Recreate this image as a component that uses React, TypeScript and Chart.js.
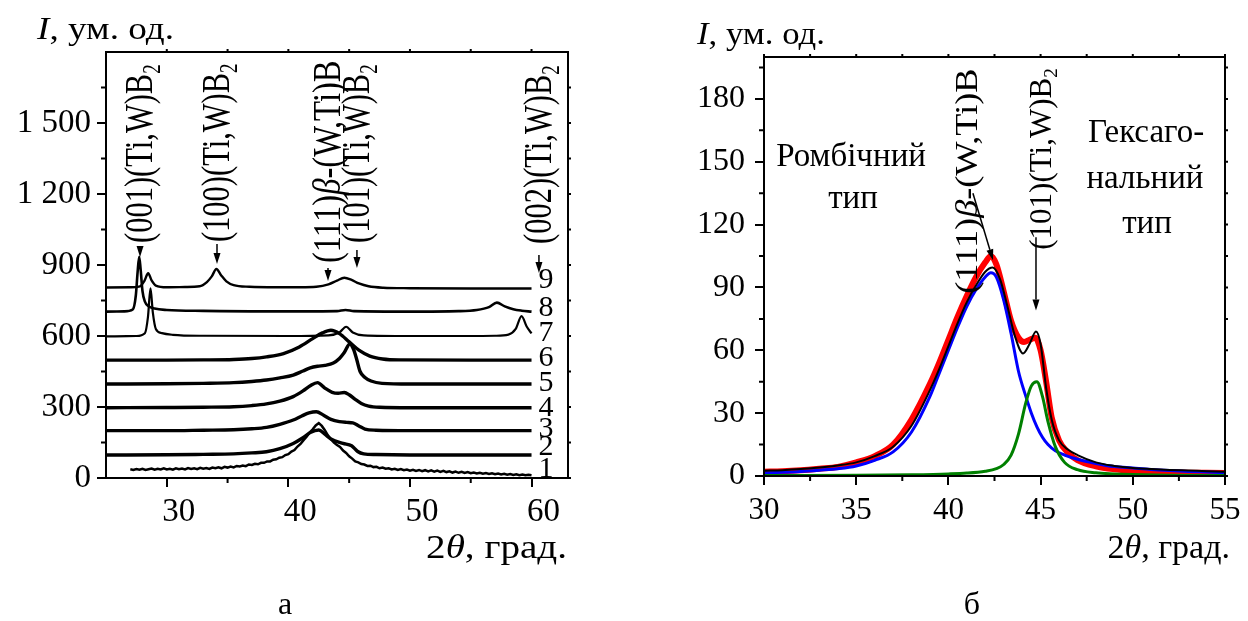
import React, { useEffect, useRef } from 'react';
import { Chart, registerables } from 'chart.js';

Chart.register(...registerables);

const SERIF = '"Liberation Serif", "Times New Roman", serif';

// ---------------- Panel (а): XRD patterns 1–9 ----------------
const aXTicks = [30, 40, 50, 60];
const aXMinor = [35, 45, 55];
const aYTicks = [0, 300, 600, 900, 1200, 1500];
const aYTickLabels = ['0', '300', '600', '900', '1 200', '1 500'];
const aYMinor = [150, 450, 750, 1050, 1350, 1650];

const c1X = [27, 27.25, 27.5, 27.75, 28, 28.25, 28.5, 28.75, 29, 29.25, 29.5, 29.75, 30, 30.25, 30.5, 30.75, 31, 31.25, 31.5, 31.75, 32, 32.25, 32.5, 32.75, 33, 33.25, 33.5, 33.75, 34, 34.25, 34.5, 34.75, 35, 35.25, 35.5, 35.75, 36, 36.25, 36.5, 36.75, 37, 37.25, 37.5, 37.75, 38, 38.25, 38.5, 38.75, 39, 39.25, 39.5, 39.75, 40, 40.25, 40.5, 40.75, 41, 41.25, 41.5, 41.75, 42, 42.25, 42.5, 42.75, 43, 43.25, 43.5, 43.75, 44, 44.25, 44.5, 44.75, 45, 45.25, 45.5, 45.75, 46, 46.25, 46.5, 46.75, 47, 47.25, 47.5, 47.75, 48, 48.25, 48.5, 48.75, 49, 49.25, 49.5, 49.75, 50, 50.25, 50.5, 50.75, 51, 51.25, 51.5, 51.75, 52, 52.25, 52.5, 52.75, 53, 53.25, 53.5, 53.75, 54, 54.25, 54.5, 54.75, 55, 55.25, 55.5, 55.75, 56, 56.25, 56.5, 56.75, 57, 57.25, 57.5, 57.75, 58, 58.25, 58.5, 58.75, 59, 59.25, 59.5, 59.75, 60];
const c1Y = [37, 34, 38, 35, 39, 34, 37, 40, 35, 39, 36, 41, 36, 39, 35, 41, 37, 40, 36, 42, 38, 41, 37, 43, 39, 42, 38, 44, 41, 45, 41, 47, 44, 48, 45, 51, 49, 53, 50, 57, 55, 60, 58, 64, 64, 70, 70, 77, 79, 86, 88, 97, 101, 112, 118, 133, 144, 160, 174, 192, 206, 222, 232, 220, 202, 180, 164, 150, 139, 131, 116, 106, 92, 82, 70, 66, 59, 57, 51, 52, 46, 47, 41, 44, 39, 41, 36, 39, 34, 38, 33, 36, 31, 35, 30, 34, 29, 33, 28, 32, 27, 31, 26, 30, 25, 28, 23, 27, 22, 26, 21, 25, 20, 23, 19, 22, 18, 21, 17, 20, 16, 19, 15, 18, 14, 17, 13, 16, 12, 15, 12, 14, 12];

const c2X = [25, 30, 33, 35.5, 37, 38.2, 39.3, 40.4, 41.2, 41.8, 42.5, 43.0, 43.5, 44.5, 45.2, 45.7, 46.2, 47.2, 50, 55, 60];
const c2Y = [97, 98, 100, 102, 106, 111, 124, 146, 170, 192, 203, 185, 165, 146, 136, 112, 102, 99, 97, 97, 97];

const c3X = [25, 30, 33, 35.5, 37, 38.2, 39.3, 40.4, 41.1, 41.7, 42.3, 42.9, 43.5, 44.2, 44.8, 45.3, 45.8, 46.3, 47.2, 50, 60];
const c3Y = [200, 200, 202, 204, 208, 214, 227, 245, 262, 275, 280, 265, 248, 238, 235, 233, 220, 207, 202, 200, 200];

const c4X = [25, 30, 33, 35.5, 37, 38.2, 39.3, 40.4, 41.2, 41.8, 42.4, 43.0, 43.6, 44.1, 44.6, 45.0, 45.5, 46.0, 46.6, 47.5, 50, 60];
const c4Y = [297, 298, 299, 301, 306, 313, 325, 344, 368, 390, 403, 380, 362, 358, 361, 352, 332, 315, 304, 299, 297, 297];

const c5X = [25, 30, 33, 35.5, 37, 38.2, 39.3, 40.4, 41.2, 41.8, 42.4, 43.0, 43.7, 44.2, 44.6, 45.05, 45.35, 45.6, 45.9, 46.3, 46.8, 47.7, 50, 60];
const c5Y = [397, 398, 400, 403, 408, 414, 423, 435, 452, 465, 472, 476, 486, 505, 530, 566, 545, 505, 450, 425, 410, 400, 397, 397];

const c6X = [25, 30, 33, 35.5, 37, 38.2, 39.6, 40.9, 42.0, 42.8, 43.5, 44.2, 45.0, 45.8, 46.7, 47.75, 49.1, 55, 60];
const c6Y = [498, 498, 499, 501, 505, 512, 526, 554, 589, 613, 624, 610, 575, 540, 515, 503, 499, 498, 498];

const c7X = [25, 27.5, 28.2, 28.45, 28.66, 28.85, 29.1, 29.6, 30.5, 33, 40, 43.3, 44.2, 44.75, 45.3, 46.2, 50, 55, 57, 58.1, 58.7, 59.18, 59.6, 60];
const c7Y = [598, 600, 612, 680, 801, 700, 630, 612, 605, 601, 600, 603, 615, 639, 615, 603, 600, 600, 601, 606, 630, 684, 640, 611];

const c8X = [25, 26.5, 27.2, 27.45, 27.6, 27.73, 27.85, 28.0, 28.2, 28.5, 29.0, 30, 33, 40, 44.0, 44.7, 45.4, 50, 54, 55.5, 56.5, 57.15, 57.8, 58.5, 59.2, 60];
const c8Y = [703, 704, 712, 770, 870, 935, 880, 790, 745, 726, 716, 710, 706, 704, 705, 710, 705, 703, 705, 710, 722, 741, 725, 713, 707, 703];

const c9X = [25, 27, 27.8, 28.15, 28.47, 28.75, 29.1, 30, 31.5, 32.7, 33.3, 33.7, 34.08, 34.45, 34.9, 35.5, 36.8, 39, 41, 42.3, 43.3, 44.0, 44.6, 45.2, 45.8, 46.6, 47.8, 50, 55, 60];
const c9Y = [805, 806, 810, 832, 865, 835, 813, 806, 807, 810, 828, 852, 883, 858, 831, 815, 808, 806, 806, 808, 818, 834, 846, 837, 822, 810, 804, 802, 801, 801];

const aCurveNames = ['1', '2', '3', '4', '5', '6', '7', '8', '9'];
const aNameY = [38, 132, 207, 295, 400, 505, 611, 717, 837];
const aNameX = 61.2;

// ---------------- Panel (б): decomposition ----------------
const bXTicks = [30, 35, 40, 45, 50, 55];
const bXMinor = [32.5, 37.5, 42.5, 47.5, 52.5];
const bYTicks = [0, 30, 60, 90, 120, 150, 180];
const bYMinor = [15, 45, 75, 105, 135, 165, 195];

const expX = [30, 31, 32, 33, 34, 35, 36, 37, 38, 39, 39.5, 40, 40.5, 41, 41.5, 42, 42.3, 42.6, 43, 43.4, 43.8, 44.1, 44.4, 44.7, 45, 45.3, 45.6, 46, 46.5, 47, 48, 49, 50, 51, 52, 53, 54, 55];
const expY = [2, 2.3, 2.8, 3.5, 4.3, 6.5, 9.5, 15, 27, 44, 54, 65, 76, 86, 95, 102, 105, 101, 88, 74, 66, 64, 65, 66, 60, 45, 28, 17, 11, 7.6, 4.6, 3.2, 2.5, 2.1, 1.8, 1.6, 1.5, 1.4];

const orthoX = [30, 31, 32, 33, 34, 35, 36, 37, 38, 39, 39.5, 40, 40.5, 41, 41.5, 42, 42.3, 42.6, 43, 43.4, 43.8, 44.2, 44.5, 44.8, 45.1, 45.4, 45.8, 46.3, 47, 48, 49, 50, 51, 52, 53, 54, 55];
const orthoY = [1.5, 1.8, 2.2, 2.8, 3.5, 4.8, 7.5, 11.5, 21, 38, 49, 60, 71, 81, 89, 95, 97, 95, 84, 68, 50, 38, 30, 23.5, 18.5, 15, 12, 10, 8, 6, 4.5, 3.8, 3.1, 2.6, 2.2, 1.9, 1.6];

const hexX = [30, 35, 38, 40, 41, 42, 42.6, 43, 43.4, 43.8, 44.2, 44.5, 44.8, 45.1, 45.4, 45.8, 46.3, 47, 48, 49, 50, 52, 55];
const hexY = [0.2, 0.3, 0.6, 1, 1.4, 2.3, 3.5, 5.5, 10, 20, 35, 43, 45, 38, 26, 14, 6.5, 3, 1.5, 1, 0.7, 0.4, 0.25];

const fitX = [30, 31, 32, 33, 34, 35, 36, 37, 38, 39, 39.5, 40, 40.5, 41, 41.5, 42, 42.4, 42.8, 43.2, 43.6, 44.05, 44.4, 44.75, 45.0, 45.3, 45.6, 46, 46.5, 47, 48, 49, 50, 51, 52, 53, 54, 55];
const fitY = [2.5, 2.8, 3.3, 4, 5, 6.5, 9.5, 14, 24, 41, 51, 62, 73, 83, 91, 97.5, 99.5, 94, 81, 67, 58.5, 63, 69, 63, 42, 27, 17, 12.5, 10, 6.5, 4.8, 3.8, 3.3, 2.9, 2.6, 2.3, 2];

// ---------------- helpers ----------------
type Seg = { t: string; it?: boolean; sub?: boolean };

const fontStr = (size: number, it?: boolean) => `${it ? 'italic ' : ''}${size}px ${SERIF}`;

function drawSegs(ctx: CanvasRenderingContext2D, segs: Seg[], x: number, y: number, size: number,
  align: 'left' | 'center' | 'right' = 'left', sx = 1, rot = false, sy = 1) {
  ctx.save();
  ctx.translate(x, y);
  ctx.scale(sx, sy);
  if (rot) ctx.rotate(-Math.PI / 2);
  ctx.textAlign = 'left';
  ctx.textBaseline = 'alphabetic';
  ctx.fillStyle = '#000';
  let total = 0;
  for (const s of segs) {
    ctx.font = fontStr(s.sub ? size * 0.62 : size, s.it);
    total += ctx.measureText(s.t).width;
  }
  let cx = align === 'left' ? 0 : align === 'center' ? -total / 2 : -total;
  for (const s of segs) {
    ctx.font = fontStr(s.sub ? size * 0.62 : size, s.it);
    ctx.fillText(s.t, cx, s.sub ? size * 0.2 : 0);
    cx += ctx.measureText(s.t).width;
  }
  ctx.restore();
}

function arrow(ctx: CanvasRenderingContext2D, x1: number, y1: number, x2: number, y2: number) {
  const head = 11, hw = 3.5;
  const ang = Math.atan2(y2 - y1, x2 - x1);
  const bx = x2 - head * Math.cos(ang), by = y2 - head * Math.sin(ang);
  ctx.save();
  ctx.strokeStyle = '#000';
  ctx.fillStyle = '#000';
  ctx.lineWidth = 1.5;
  ctx.beginPath();
  ctx.moveTo(x1, y1);
  ctx.lineTo(bx, by);
  ctx.stroke();
  ctx.beginPath();
  ctx.moveTo(x2, y2);
  ctx.lineTo(bx + hw * Math.sin(ang), by - hw * Math.cos(ang));
  ctx.lineTo(bx - hw * Math.sin(ang), by + hw * Math.cos(ang));
  ctx.closePath();
  ctx.fill();
  ctx.restore();
}

const gridOpts = { drawOnChartArea: false, drawTicks: true, tickLength: 9, lineWidth: 2, color: '#000' };

function xScale(min: number, max: number, ticks: number[], size: number, h: number, pad: number, offset: number) {
  return {
    type: 'linear', min, max,
    afterBuildTicks: (s: any) => { s.ticks = ticks.map((v) => ({ value: v })); },
    afterFit: (s: any) => { s.height = h; },
    grid: gridOpts,
    border: { display: false },
    ticks: { color: '#000', font: { family: SERIF, size }, padding: pad, maxRotation: 0, autoSkip: false,
      labelOffset: offset, callback: (v: number) => String(v) },
  };
}

function yScale(min: number, max: number, ticks: number[], labels: string[], size: number, w: number, pad: number) {
  return {
    type: 'linear', min, max,
    afterBuildTicks: (s: any) => { s.ticks = ticks.map((v) => ({ value: v })); },
    afterFit: (s: any) => { s.width = w; },
    grid: gridOpts,
    border: { display: false },
    ticks: { color: '#000', font: { family: SERIF, size }, padding: pad, autoSkip: false,
      callback: (v: number) => labels[ticks.indexOf(v)] ?? '' },
  };
}

function framePlugin(xMajor: number[], xMinor: number[], yMajor: number[], yMinor: number[], extra: (c: any) => void) {
  return {
    id: 'frame',
    afterDraw(chart: any) {
      const { ctx, chartArea: a, scales } = chart;
      const xs = scales.x, ys = scales.y;
      ctx.save();
      ctx.strokeStyle = '#000';
      ctx.lineWidth = 2;
      ctx.strokeRect(a.left, a.top, a.right - a.left, a.bottom - a.top);
      ctx.beginPath();
      for (const v of xMinor) { const p = xs.getPixelForValue(v); ctx.moveTo(p, a.bottom); ctx.lineTo(p, a.bottom + 5); }
      for (const v of yMinor) { const p = ys.getPixelForValue(v); ctx.moveTo(a.left, p); ctx.lineTo(a.left - 5, p); }
      for (const v of [...xMajor, ...xMinor]) { const p = xs.getPixelForValue(v); ctx.moveTo(p, a.top); ctx.lineTo(p, a.top - 3); }
      for (const v of [...yMajor, ...yMinor]) { const p = ys.getPixelForValue(v); if (p >= a.top - 1) { ctx.moveTo(a.right, p); ctx.lineTo(a.right + 3, p); } }
      ctx.stroke();
      ctx.restore();
      extra(chart);
    },
  };
}

const aPeaks = [
  { segs: [{ t: '(001)(Ti,W)B' }, { t: '2', sub: true }], x: 27.8, textY: 993, from: 980, to: 934, sy: 1 },
  { segs: [{ t: '(100)(Ti,W)B' }, { t: '2', sub: true }], x: 34.13, textY: 997, from: 989, to: 904, sy: 1 },
  { segs: [{ t: '(111)' }, { t: 'β', it: true }, { t: '-(W,Ti)B' }], x: 43.26, textY: 908, from: 887, to: 832, sy: 1.07 },
  { segs: [{ t: '(101)(Ti,W)B' }, { t: '2', sub: true }], x: 45.64, textY: 993, from: 963, to: 887, sy: 1 },
  { segs: [{ t: '(002)(Ti,W)B' }, { t: '2', sub: true }], x: 60.61, textY: 989, from: 942, to: 866, sy: 1 },
];

function drawA(chart: any) {
  const { ctx, chartArea: a, scales: { x, y } } = chart;
  ctx.save();
  ctx.fillStyle = '#000';
  ctx.font = fontStr(30);
  ctx.textAlign = 'center';
  ctx.textBaseline = 'middle';
  aCurveNames.forEach((t, i) => ctx.fillText(t, x.getPixelForValue(aNameX), y.getPixelForValue(aNameY[i])));
  ctx.restore();
  for (const p of aPeaks) {
    const px = x.getPixelForValue(p.x);
    drawSegs(ctx, p.segs as Seg[], px + 12, y.getPixelForValue(p.textY), 30.5, 'left', 1.33, true, p.sy);
    arrow(ctx, px, y.getPixelForValue(p.from), px, y.getPixelForValue(p.to));
  }
  drawSegs(ctx, [{ t: 'I', it: true }, { t: ', ум. од.' }], 37, 39, 31, 'left', 1.2);
  drawSegs(ctx, [{ t: '2' }, { t: 'θ', it: true }, { t: ', град.' }], a.right - 1, 558, 34, 'right', 1.15);
  drawSegs(ctx, [{ t: 'а' }], 285, 614, 32, 'center');
}

const bTexts = [
  { t: 'Ромбічний', x: 34.72, y: 147.8 },
  { t: 'тип', x: 34.83, y: 127.8 },
  { t: 'Гексаго-', x: 50.72, y: 159.3 },
  { t: 'нальний', x: 50.66, y: 137.3 },
  { t: 'тип', x: 50.77, y: 115.9 },
];

const bPeaks = [
  { segs: [{ t: '(111)' }, { t: 'β', it: true }, { t: '-(W,Ti)B' }], tx: 41.55, ty: 87, ax1: 41.33, ay1: 135, ax2: 42.42, ay2: 103, sy: 1.17 },
  { segs: [{ t: '(101)(Ti,W)B' }, { t: '2', sub: true }], tx: 45.55, ty: 108, ax1: 44.75, ay1: 114, ax2: 44.75, ay2: 79, sy: 1 },
];

function drawB(chart: any) {
  const { ctx, chartArea: a, scales: { x, y } } = chart;
  for (const t of bTexts) drawSegs(ctx, [{ t: t.t }], x.getPixelForValue(t.x), y.getPixelForValue(t.y), 33, 'center');
  for (const p of bPeaks) {
    drawSegs(ctx, p.segs as Seg[], x.getPixelForValue(p.tx), y.getPixelForValue(p.ty), 31, 'left', 1, true, p.sy);
    arrow(ctx, x.getPixelForValue(p.ax1), y.getPixelForValue(p.ay1), x.getPixelForValue(p.ax2), y.getPixelForValue(p.ay2));
  }
  drawSegs(ctx, [{ t: 'I', it: true }, { t: ', ум. од.' }], 73, 44, 31, 'left', 1.12);
  drawSegs(ctx, [{ t: '2' }, { t: 'θ', it: true }, { t: ', град.' }], a.right + 5, 558, 34, 'right');
  drawSegs(ctx, [{ t: 'б' }], 348, 614, 32, 'center');
}

const pts = (xs: number[], ys: number[]) => xs.map((v, i) => ({ x: v, y: ys[i] }));

const baseOpts = {
  responsive: false,
  maintainAspectRatio: false,
  animation: false,
  devicePixelRatio: 1,
  events: [],
  plugins: { legend: { display: false }, tooltip: { enabled: false } },
  elements: { point: { radius: 0 } },
};

export default function App() {
  const refA = useRef<HTMLCanvasElement>(null);
  const refB = useRef<HTMLCanvasElement>(null);

  useEffect(() => {
    const curves = [
      { x: c1X, y: c1Y, w: 2.5, mono: false },
      { x: c2X, y: c2Y, w: 3.4, mono: true },
      { x: c3X, y: c3Y, w: 3.4, mono: true },
      { x: c4X, y: c4Y, w: 3.4, mono: true },
      { x: c5X, y: c5Y, w: 3.4, mono: true },
      { x: c6X, y: c6Y, w: 3.4, mono: true },
      { x: c7X, y: c7Y, w: 2.2, mono: true },
      { x: c8X, y: c8Y, w: 2.6, mono: true },
      { x: c9X, y: c9Y, w: 2.4, mono: true },
    ];
    const chartA = new Chart(refA.current as HTMLCanvasElement, {
      type: 'line',
      data: {
        datasets: curves.map((c) => ({
          data: pts(c.x, c.y),
          borderColor: '#000',
          borderWidth: c.w,
          pointRadius: 0,
          fill: false,
          cubicInterpolationMode: c.mono ? 'monotone' : 'default',
          tension: 0,
        })),
      },
      options: {
        ...baseOpts,
        layout: { padding: { left: 0, right: 56, top: 52, bottom: 83 } },
        scales: {
          x: xScale(25, 63, aXTicks, 33, 60, 6, 12),
          y: yScale(0, 1800, aYTicks, aYTickLabels, 33, 106, 6),
        },
      },
      plugins: [framePlugin(aXTicks, aXMinor, aYTicks, aYMinor, drawA)],
    } as any);

    const chartB = new Chart(refB.current as HTMLCanvasElement, {
      type: 'line',
      data: {
        datasets: [
          { data: pts(hexX, hexY), borderColor: '#008000', borderWidth: 3, order: 0 },
          { data: pts(fitX, fitY), borderColor: '#000000', borderWidth: 2, order: 1 },
          { data: pts(orthoX, orthoY), borderColor: '#0000ff', borderWidth: 3, order: 2 },
          { data: pts(expX, expY), borderColor: '#ff0000', borderWidth: 6, order: 3 },
        ].map((d) => ({ ...d, pointRadius: 0, fill: false, cubicInterpolationMode: 'monotone' })),
      },
      options: {
        ...baseOpts,
        layout: { padding: { left: 0, right: 23, top: 57, bottom: 85 } },
        scales: {
          x: xScale(30, 55, bXTicks, 31, 60, 7, 0),
          y: yScale(0, 200, bYTicks, bYTicks.map(String), 32, 140, 10),
        },
      },
      plugins: [framePlugin(bXTicks, bXMinor, bYTicks, bYMinor, drawB)],
    } as any);

    return () => {
      chartA.destroy();
      chartB.destroy();
    };
  }, []);

  return (
    <div style={{ position: 'absolute', left: 0, top: 0, width: 1248, height: 621, background: '#fff' }}>
      <canvas ref={refA} width={624} height={621} style={{ position: 'absolute', left: 0, top: 0 }} />
      <canvas ref={refB} width={624} height={621} style={{ position: 'absolute', left: 624, top: 0 }} />
    </div>
  );
}
